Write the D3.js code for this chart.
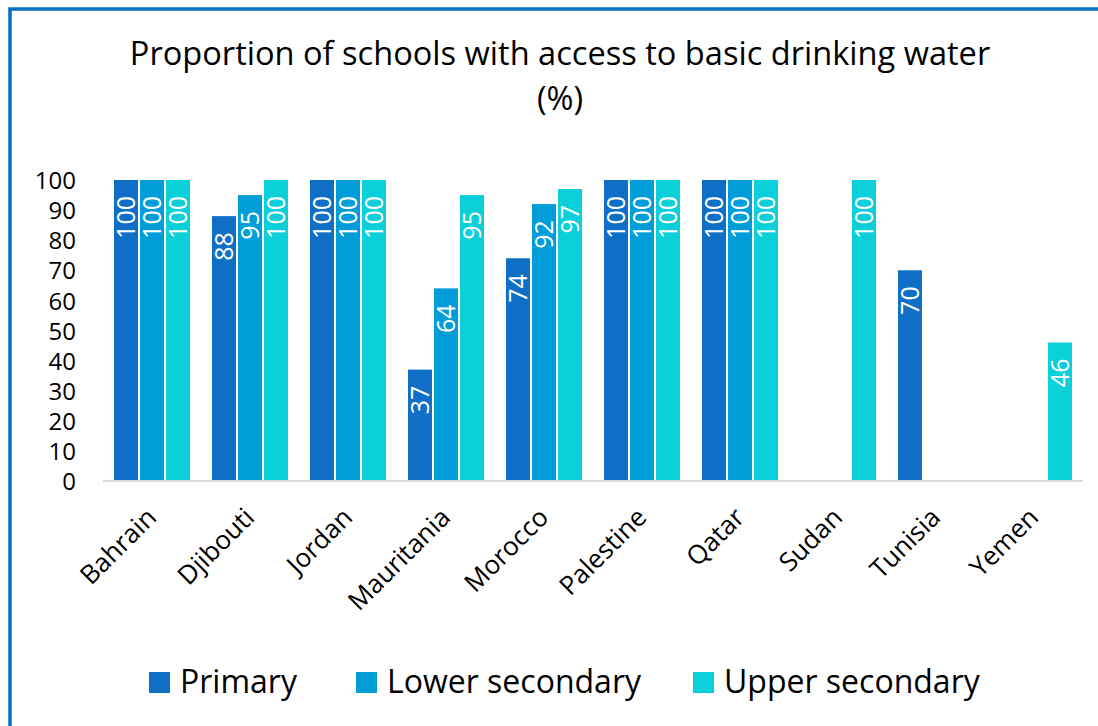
<!DOCTYPE html>
<html>
<head>
<meta charset="utf-8">
<script src="https://cdn.jsdelivr.net/npm/d3@7"></script>
<style>
  html, body { margin: 0; padding: 0; background: #fff; }
  svg { display: block; }
  text { font-family: "Open Sans", "Noto Sans", sans-serif; font-variant-ligatures: none; }
</style>
</head>
<body>
<svg id="chart" width="1098" height="726"></svg>
<script>
// Proportion of schools with access to basic drinking water, by level (%)
const countries = ["Bahrain", "Djibouti", "Jordan", "Mauritania", "Morocco",
                   "Palestine", "Qatar", "Sudan", "Tunisia", "Yemen"];
const levels = ["Primary", "Lower secondary", "Upper secondary"];
const primary        = [100, 88, 100, 37, 74, 100, 100, null, 70, null];
const lowerSecondary = [100, 95, 100, 64, 92, 100, 100, null, null, null];
const upperSecondary = [100, 100, 100, 95, 97, 100, 100, 100, null, 46];
const yTicks = [0, 10, 20, 30, 40, 50, 60, 70, 80, 90, 100];
const colors = ["#0F6FC6", "#009DD9", "#0BD0D9"];

const series = [primary, lowerSecondary, upperSecondary];
const FONT = "'Open Sans', 'Noto Sans', sans-serif";
const TICK_FONT = "'Liberation Sans', Arial, sans-serif";

const svg = d3.select("#chart");

// outer frame (open on the right and bottom)
svg.append("rect")
  .attr("x", 10).attr("y", 9)
  .attr("width", 1200).attr("height", 800)
  .attr("fill", "none")
  .attr("stroke", "#0070C0")
  .attr("stroke-width", 3.5);

// title
const title = svg.append("text")
  .attr("text-anchor", "middle")
  .attr("font-size", 32.6)
  .attr("fill", "#000");
title.append("tspan").attr("x", 560).attr("y", 65)
  .text("Proportion of schools with access to basic drinking water");
title.append("tspan").attr("x", 560).attr("y", 110).text("(%)");

const x = d3.scaleBand()
  .domain(countries)
  .range([103, 1083])
  .paddingInner(0.224)
  .paddingOuter(0.112);

const xSub = d3.scaleBand()
  .domain(d3.range(levels.length))
  .range([0, x.bandwidth()])
  .paddingInner(0.077);

const y = d3.scaleLinear().domain([0, 100]).range([481, 180]);

// y axis labels only (no axis line or ticks)
const yAxis = svg.append("g")
  .attr("transform", "translate(76,0)")
  .call(d3.axisLeft(y).tickValues(yTicks).tickSize(0).tickPadding(0));
yAxis.select(".domain").remove();
yAxis.selectAll("text")
  .attr("font-size", 24)
  .attr("font-family", TICK_FONT)
  .attr("fill", "#000")
  .attr("dy", "0.36em");

// bars
const cells = [];
countries.forEach((c, i) => {
  series.forEach((s, j) => {
    if (s[i] != null) cells.push({ country: c, level: j, value: s[i] });
  });
});

const bars = svg.append("g");
bars.selectAll("rect")
  .data(cells)
  .join("rect")
  .attr("x", d => x(d.country) + xSub(d.level))
  .attr("y", d => y(d.value))
  .attr("width", xSub.bandwidth())
  .attr("height", d => y(0) - y(d.value))
  .attr("fill", d => colors[d.level]);

// value labels, rotated, inside the top of each bar
bars.selectAll("text")
  .data(cells)
  .join("text")
  .attr("transform", d => {
    const cx = x(d.country) + xSub(d.level) + xSub.bandwidth() / 2;
    return `translate(${cx},${y(d.value) + 16}) rotate(-90)`;
  })
  .attr("text-anchor", "end")
  .attr("dy", "0.36em")
  .attr("font-size", 25)
  .attr("fill", "#fff")
  .text(d => d.value);

// baseline
svg.append("line")
  .attr("x1", 103).attr("x2", 1083)
  .attr("y1", y(0)).attr("y2", y(0))
  .attr("stroke", "#D9D9D9")
  .attr("stroke-width", 2);

// category labels at -45 degrees
const xAxis = svg.append("g")
  .attr("transform", `translate(0,${y(0)})`)
  .call(d3.axisBottom(x).tickSize(0).tickPadding(0));
xAxis.select(".domain").remove();
xAxis.selectAll("text")
  .attr("font-size", 26)
  .attr("font-family", FONT)
  .attr("fill", "#000")
  .attr("text-anchor", "end")
  .attr("y", 0)
  .attr("dy", 0)
  .attr("transform", "translate(6,38) rotate(-45)");

// legend
const legendX = [149, 356, 693];
const legend = svg.append("g");
levels.forEach((lv, i) => {
  const g = legend.append("g").attr("transform", `translate(${legendX[i]},672)`);
  g.append("rect").attr("width", 21).attr("height", 21).attr("fill", colors[i]);
  g.append("text").attr("x", 31).attr("y", 21)
    .attr("font-size", 32).attr("fill", "#000").text(lv);
});
</script>
</body>
</html>
